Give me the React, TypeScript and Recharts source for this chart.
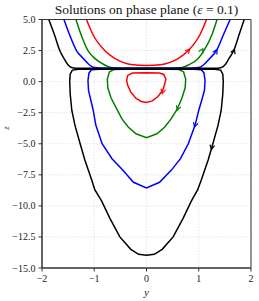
import React from 'react'
import { CartesianGrid, ReferenceArea, Scatter, ScatterChart, XAxis, YAxis } from 'recharts'

type Pt = { y: number; z: number }
const pts = (a: number[][]): Pt[] => a.map(([y, z]) => ({ y, z }))

// upper branches (open, going up)
const redUpper = pts([
    [-1.15, 5], [-1.02, 3.75], [-0.8, 2.5], [-0.61, 1.87], [-0.45, 1.55], [-0.3, 1.38], [0, 1.3],
    [0.3, 1.38], [0.45, 1.55], [0.61, 1.87], [0.8, 2.5], [1.02, 3.75], [1.15, 5],
])
const greenUpper = pts([
    [-1.35, 5], [-1.25, 3.75], [-1.12, 2.5], [-0.99, 1.87], [-0.8, 1.34], [-0.68, 1.14], [-0.5, 1.08], [0, 1.07],
    [0.5, 1.08], [0.68, 1.14], [0.8, 1.34], [0.99, 1.87], [1.1, 2.5], [1.25, 3.75], [1.35, 5],
])
const blueUpper = pts([
    [-1.58, 5], [-1.47, 3.75], [-1.34, 2.5], [-1.21, 1.87], [-1.09, 1.34], [-1.0, 1.13], [-0.8, 1.07], [0, 1.07],
    [0.8, 1.07], [1.0, 1.13], [1.09, 1.34], [1.21, 1.87], [1.34, 2.5], [1.47, 3.75], [1.6, 5],
])
const blackUpper = pts([
    [-1.87, 5], [-1.76, 3.75], [-1.66, 2.5], [-1.58, 1.87], [-1.5, 1.34], [-1.42, 1.12], [-1.3, 1.07], [0, 1.07],
    [1.3, 1.07], [1.42, 1.12], [1.5, 1.34], [1.58, 1.87], [1.67, 2.5], [1.77, 3.75], [1.87, 5],
])

// lower closed loops
const redLower = pts([
    [0, 0.72], [0.25, 0.7], [0.33, 0.58], [0.37, 0.2], [0.35, -0.2], [0.31, -0.7], [0.22, -1.2], [0.11, -1.55],
    [0, -1.68], [-0.1, -1.6], [-0.2, -1.35], [-0.3, -0.85], [-0.36, -0.3], [-0.38, 0.1], [-0.36, 0.5],
    [-0.27, 0.69], [0, 0.72],
])
const greenLower = pts([
    [0, 1.0], [0.45, 1.0], [0.62, 0.97], [0.71, 0.78], [0.75, 0.2], [0.74, -0.5], [0.68, -1.3], [0.59, -2.2],
    [0.47, -3.0], [0.35, -3.65], [0.2, -4.2], [0, -4.51], [-0.2, -4.2], [-0.35, -3.65], [-0.47, -3.0],
    [-0.57, -2.2], [-0.68, -1.3], [-0.74, -0.5], [-0.75, 0.2], [-0.71, 0.78], [-0.62, 0.97], [-0.45, 1.0], [0, 1.0],
])
const blueLower = pts([
    [0, 1.0], [0.9, 1.0], [1.05, 0.95], [1.1, 0.7], [1.12, 0.1], [1.11, -0.7], [1.05, -1.6], [1.0, -2.3],
    [0.93, -3.5], [0.8, -5.0], [0.65, -6.2], [0.48, -7.1], [0.25, -8.1], [0, -8.55], [-0.25, -8.1],
    [-0.46, -7.1], [-0.66, -6.2], [-0.85, -5.0], [-0.97, -3.5], [-1.02, -2.3], [-1.06, -1.6], [-1.11, -0.7],
    [-1.12, 0.1], [-1.1, 0.7], [-1.05, 0.95], [-0.9, 1.0], [0, 1.0],
])
const blackLower = pts([
    [0, 1.0], [1.3, 1.0], [1.42, 0.93], [1.46, 0.6], [1.47, 0], [1.46, -1.0], [1.43, -2.3], [1.37, -3.5],
    [1.27, -5.0], [1.18, -6.3], [1.05, -7.9], [0.98, -8.7], [0.86, -9.6], [0.7, -11.0], [0.51, -12.5],
    [0.3, -13.5], [0.15, -13.9], [0, -13.97], [-0.15, -13.9], [-0.3, -13.5], [-0.51, -12.5], [-0.7, -11.0],
    [-0.86, -9.6], [-0.99, -8.7], [-1.05, -7.9], [-1.18, -6.3], [-1.27, -5.0], [-1.37, -3.5], [-1.43, -2.3],
    [-1.46, -1.0], [-1.47, 0], [-1.46, 0.6], [-1.42, 0.93], [-1.3, 1.0], [0, 1.0],
])

// arrow markers: position on curve and direction (deg, screen)
const redArrows = [{ y: 0.8, z: 2.5, dir: -48 }, { y: 0.31, z: -0.81, dir: 105 }]
const greenArrows = [{ y: 1.06, z: 2.5, dir: -60 }, { y: 0.6, z: -2.15, dir: 110 }]
const blueArrows = [{ y: 1.33, z: 2.45, dir: -62 }, { y: 0.93, z: -3.5, dir: 106 }]
const blackArrows = [{ y: 1.67, z: 2.45, dir: -68 }, { y: 1.25, z: -5.3, dir: 102 }]

const xTicks = [-2, -1, 0, 1, 2]
const zTicks = [-15, -12.5, -10, -7.5, -5, -2.5, 0, 2.5, 5]

const FONT = '"Liberation Serif", "DejaVu Serif", serif'
const minus = (s: string) => s.replace('-', '\u2212')

const noDot = () => <g />

const arrowShape = (color: string) => (props: any) => {
    const { cx, cy, payload } = props
    const a = (payload.dir * Math.PI) / 180
    const L = 5
    const tx = cx + Math.cos(a) * 2
    const ty = cy + Math.sin(a) * 2
    const w = (28 * Math.PI) / 180
    const p1x = tx - Math.cos(a - w) * L
    const p1y = ty - Math.sin(a - w) * L
    const p2x = tx - Math.cos(a + w) * L
    const p2y = ty - Math.sin(a + w) * L
    return (
        <path d={`M${p1x},${p1y} L${tx},${ty} L${p2x},${p2y}`} fill="none" stroke={color} strokeWidth={1.2} />
    )
}

const curves = [
    { data: redUpper, color: '#ff0000', joint: 'monotoneX' },
    { data: greenUpper, color: '#008000', joint: 'monotoneX' },
    { data: blueUpper, color: '#0000ff', joint: 'monotoneX' },
    { data: blackUpper, color: '#000000', joint: 'monotoneX' },
    { data: redLower, color: '#ff0000', joint: 'linear' },
    { data: greenLower, color: '#008000', joint: 'linear' },
    { data: blueLower, color: '#0000ff', joint: 'linear' },
    { data: blackLower, color: '#000000', joint: 'linear' },
]
const arrows = [
    { data: redArrows, color: '#ff0000' },
    { data: greenArrows, color: '#008000' },
    { data: blueArrows, color: '#0000ff' },
    { data: blackArrows, color: '#000000' },
]

const Title = (props: any) => {
    const { viewBox } = props
    const cx = viewBox.x + viewBox.width / 2
    return (
        <text x={cx} y={viewBox.y - 5.5} textAnchor="middle" fontFamily={FONT} fontSize={13.5} fill="#111">
            Solutions on phase plane (<tspan fontStyle="italic">ε</tspan> = 0.1)
        </text>
    )
}

export default function App() {
    return (
        <div style={{ position: 'absolute', left: 0, top: 0, width: 259, height: 301, background: '#fff' }}>
            <ScatterChart width={259} height={301} margin={{ top: 19.5, right: 8, bottom: 0, left: 0 }}>
                <CartesianGrid stroke="#dcdcdc" strokeDasharray="1.5 1.5" strokeWidth={0.7} />
                <XAxis
                    dataKey="y"
                    type="number"
                    domain={[-2, 2]}
                    ticks={xTicks}
                    allowDataOverflow
                    height={33}
                    tickSize={3.5}
                    tickMargin={3}
                    stroke="#333"
                    tick={{ fontSize: 10, fontFamily: FONT, fill: '#222' }}
                    tickFormatter={(v: number) => minus(String(v))}
                    label={{ value: 'y', position: 'insideBottom', offset: 5, fontSize: 11, fontFamily: FONT, fontStyle: 'italic', fill: '#222' }}
                />
                <YAxis
                    dataKey="z"
                    type="number"
                    domain={[-15, 5]}
                    ticks={zTicks}
                    allowDataOverflow
                    width={42}
                    tickSize={3.5}
                    tickMargin={3}
                    stroke="#333"
                    tick={{ fontSize: 10, fontFamily: FONT, fill: '#222' }}
                    tickFormatter={(v: number) => minus(v.toFixed(1))}
                    label={{
                        content: () => (
                            <text x={9} y={128} transform="rotate(-90 9 128)" textAnchor="middle" fontSize={9} fontFamily={FONT} fontStyle="italic" fill="#222">
                                z
                            </text>
                        ),
                    }}
                />
                {curves.map((c, i) => (
                    <Scatter
                        key={`c${i}`}
                        data={c.data}
                        line={{ stroke: c.color, strokeWidth: 1.5 }}
                        lineJointType={c.joint as any}
                        shape={noDot}
                        isAnimationActive={false}
                    />
                ))}
                {arrows.map((a, i) => (
                    <Scatter key={`a${i}`} data={a.data} shape={arrowShape(a.color)} isAnimationActive={false} />
                ))}
                <ReferenceArea x1={-2} x2={2} y1={-15} y2={5} fill="none" stroke="#333" strokeWidth={1} label={<Title />} ifOverflow="visible" />
            </ScatterChart>
        </div>
    )
}
